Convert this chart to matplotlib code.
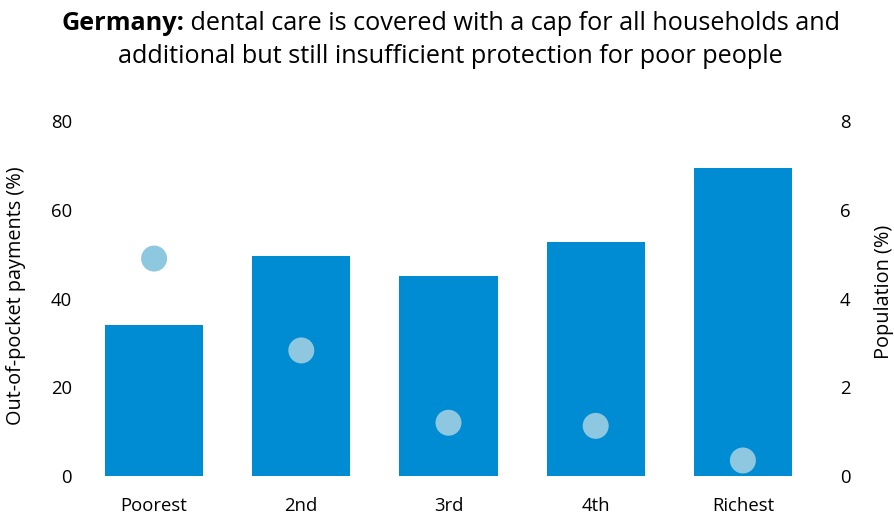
import matplotlib
matplotlib.use("Agg")
import matplotlib.pyplot as plt

categories = ["Poorest", "2nd", "3rd", "4th", "Richest"]
oop_payments = [34.0, 49.5, 45.0, 52.8, 69.5]
population = [4.9, 2.83, 1.2, 1.13, 0.35]
left_ticks = [0, 20, 40, 60, 80]
right_ticks = [0, 2, 4, 6, 8]

plt.rcParams['font.family'] = ['Open Sans', 'DejaVu Sans']

fig = plt.figure(figsize=(8.94, 5.15), dpi=100)
W, H = 894, 515
ax = fig.add_axes([80.5 / W, (515 - 476) / H, (816.5 - 80.5) / W, (476 - 121) / H])
ax2 = ax.twinx()

x = list(range(len(categories)))
ax.bar(x, oop_payments, width=0.667, color="#008CD2", zorder=2)
ax2.scatter(x, population, s=350, color="#8EC8E0", edgecolors="none", zorder=3)

ax.set_xlim(-0.5, 4.5)
ax.set_ylim(0, 80)
ax2.set_ylim(0, 8)
ax.set_yticks(left_ticks)
ax2.set_yticks(right_ticks)
ax.set_xticks(x)
ax.set_xticklabels(categories)

for a in (ax, ax2):
    for s in a.spines.values():
        s.set_visible(False)
    a.tick_params(length=0, labelsize=13.3, colors="black")
ax.tick_params(axis='y', pad=6)
ax.tick_params(axis='x', pad=15)
ax2.tick_params(axis='y', pad=17)

fig.text(16 / W, 1 - 296 / H, "Out-of-pocket payments (%)", fontsize=14.3,
         rotation=90, ha="center", va="center")
fig.text(884 / W, 1 - 292 / H, "Population (%)", fontsize=14.3,
         rotation=90, ha="center", va="center")

ax.set_zorder(ax2.get_zorder() - 1)
ax.patch.set_visible(True)
ax2.patch.set_visible(False)

# Title with bold prefix
fs = 18.2
renderer = fig.canvas.get_renderer()
t1 = fig.text(0, 0, "Germany:", fontsize=fs, fontweight="bold")
t2 = fig.text(0, 0, " dental care is covered with a cap for all households and", fontsize=fs)
w1 = t1.get_window_extent(renderer).width
w2 = t2.get_window_extent(renderer).width
total = w1 + w2
x0 = (451 - total / 2) / W
y1 = 1 - 30 / H
t1.set_position((x0, y1))
t2.set_position((x0 + w1 / W, y1))
fig.text(450 / W, 1 - 63 / H,
         "additional but still insufficient protection for poor people",
         fontsize=fs, ha="center")

fig.savefig("out.png", dpi=100)
